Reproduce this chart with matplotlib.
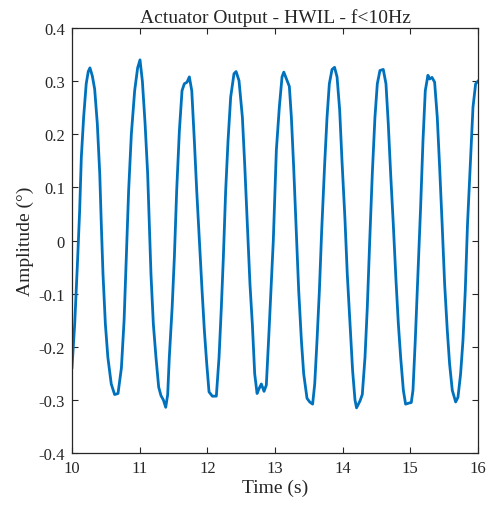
import matplotlib
matplotlib.use('Agg')
import matplotlib.pyplot as plt
from matplotlib.ticker import FuncFormatter

# Signal (time in s, amplitude in deg)
time_s = [10.000, 10.040, 10.080, 10.113, 10.138, 10.172, 10.210, 10.240, 10.265, 10.300,
          10.335, 10.374, 10.410, 10.433, 10.458, 10.493, 10.530, 10.580, 10.630, 10.680,
          10.730, 10.770, 10.800, 10.837, 10.877, 10.926, 10.970, 11.005, 11.040, 11.080,
          11.118, 11.143, 11.167, 11.202, 11.241, 11.281, 11.315, 11.350, 11.385, 11.414,
          11.438, 11.480, 11.513, 11.547, 11.587, 11.626, 11.660, 11.700, 11.734, 11.770,
          11.808, 11.843, 11.882, 11.922, 11.956, 11.990, 12.025, 12.074, 12.133, 12.173,
          12.207, 12.237, 12.271, 12.306, 12.345, 12.394, 12.425, 12.468, 12.518, 12.552,
          12.591, 12.630, 12.665, 12.700, 12.735, 12.764, 12.798, 12.838, 12.872, 12.912,
          12.975, 13.020, 13.064, 13.104, 13.130, 13.178, 13.212, 13.242, 13.276, 13.310,
          13.350, 13.390, 13.424, 13.473, 13.513, 13.556, 13.587, 13.621, 13.656, 13.690,
          13.734, 13.769, 13.803, 13.843, 13.880, 13.917, 13.956, 13.990, 14.034, 14.068,
          14.108, 14.147, 14.182, 14.205, 14.256, 14.290, 14.330, 14.364, 14.400, 14.438,
          14.477, 14.512, 14.551, 14.600, 14.640, 14.674, 14.709, 14.748, 14.788, 14.823,
          14.857, 14.897, 14.930, 14.980, 15.014, 15.039, 15.073, 15.113, 15.152, 15.187,
          15.221, 15.260, 15.285, 15.320, 15.359, 15.398, 15.433, 15.470, 15.507, 15.546,
          15.580, 15.620, 15.670, 15.704, 15.743, 15.778, 15.812, 15.845, 15.891, 15.926,
          15.965, 16.000]
amplitude = [-0.239, -0.157, -0.044, 0.056, 0.157, 0.232, 0.295, 0.318, 0.325, 0.310,
             0.285, 0.220, 0.126, 0.031, -0.063, -0.157, -0.220, -0.270, -0.290, -0.288,
             -0.240, -0.150, -0.040, 0.094, 0.200, 0.282, 0.325, 0.340, 0.300, 0.220,
             0.126, 0.031, -0.063, -0.157, -0.220, -0.276, -0.292, -0.300, -0.314, -0.290,
             -0.220, -0.126, -0.031, 0.094, 0.207, 0.282, 0.295, 0.298, 0.308, 0.282,
             0.188, 0.094, 0.000, -0.094, -0.169, -0.230, -0.285, -0.293, -0.293, -0.220,
             -0.126, -0.031, 0.094, 0.188, 0.270, 0.314, 0.318, 0.301, 0.232, 0.144,
             0.031, -0.082, -0.157, -0.251, -0.288, -0.279, -0.270, -0.284, -0.272, -0.170,
             0.000, 0.170, 0.251, 0.308, 0.317, 0.301, 0.290, 0.232, 0.138, 0.031,
             -0.094, -0.188, -0.251, -0.297, -0.304, -0.308, -0.270, -0.188, -0.094, 0.019,
             0.144, 0.232, 0.295, 0.322, 0.326, 0.308, 0.245, 0.150, 0.040, -0.063,
             -0.157, -0.245, -0.300, -0.315, -0.302, -0.290, -0.220, -0.126, 0.000, 0.126,
             0.232, 0.295, 0.320, 0.322, 0.295, 0.220, 0.126, 0.031, -0.075, -0.157,
             -0.220, -0.282, -0.308, -0.306, -0.305, -0.282, -0.188, -0.063, 0.063, 0.188,
             0.282, 0.311, 0.304, 0.307, 0.298, 0.232, 0.138, 0.031, -0.082, -0.169,
             -0.232, -0.282, -0.304, -0.295, -0.251, -0.188, -0.094, 0.031, 0.157, 0.251,
             0.295, 0.300]

x_ticks = [10, 11, 12, 13, 14, 15, 16]
y_ticks = [-0.4, -0.3, -0.2, -0.1, 0, 0.1, 0.2, 0.3, 0.4]

plt.rcParams['font.family'] = ['Liberation Serif', 'DejaVu Serif']
plt.rcParams['text.color'] = '#262626'

fig = plt.figure(figsize=(4.91, 5.06), dpi=100)
ax = fig.add_axes([72 / 491, 52 / 506, 406 / 491, 425 / 506])

ax.plot(time_s, amplitude, color='#0072BD', linewidth=2.0)

ax.set_xlim(10, 16)
ax.set_ylim(-0.4, 0.4)
ax.set_xticks(x_ticks)
ax.set_yticks(y_ticks)
ax.yaxis.set_major_formatter(FuncFormatter(lambda v, _: '0' if abs(v) < 1e-9 else f'{v:.1f}'))

# MATLAB-like box with inward ticks on every side
ax.tick_params(direction='in', top=True, right=True, length=4, width=0.8,
               colors='#262626', labelsize=12, pad=5)
for side in ax.spines.values():
    side.set_color('#262626')
    side.set_linewidth(0.9)

ax.set_title('Actuator Output - HWIL - f<10Hz', fontsize=14, color='#262626', pad=4)
ax.set_xlabel('Time (s)', fontsize=14, color='#262626', labelpad=2)
ax.set_ylabel('Amplitude (°)', fontsize=14, color='#262626', labelpad=3)

fig.savefig('out.png', dpi=100)
